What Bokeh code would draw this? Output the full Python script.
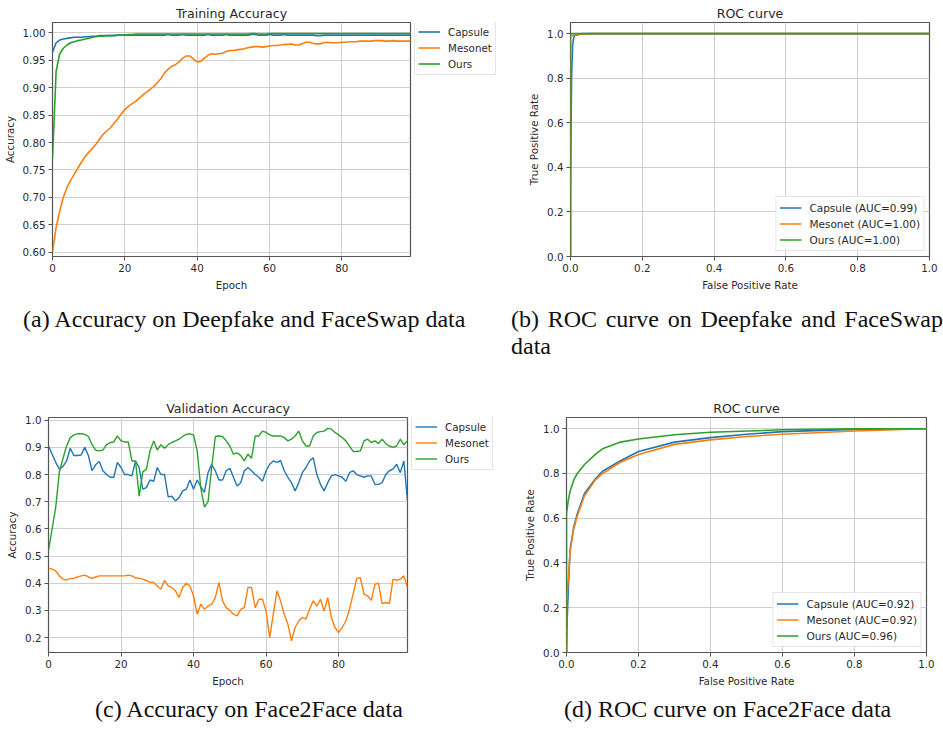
from bokeh.plotting import figure
from bokeh.models import (Range1d, FixedTicker, PrintfTickFormatter, Legend, LegendItem, Div)
from bokeh.layouts import column, row
from bokeh.embed import file_html
from bokeh.resources import INLINE

# ---------------- data ----------------
epochs = list(range(100))
series_names = ["Capsule", "Mesonet", "Ours"]
colors = ["#1f77b4", "#ff7f0e", "#2ca02c"]

train_capsule = [0.965,0.982,0.987,0.989,0.990,0.991,0.992,0.992,0.992,0.993,
0.993,0.994,0.994,0.995,0.995,0.995,0.995,0.995,0.996,0.996,
0.996,0.996,0.996,0.996,0.996,0.996,0.996,0.996,0.996,0.996,
0.996,0.996,0.997,0.996,0.996,0.996,0.997,0.996,0.996,0.996,
0.996,0.996,0.996,0.997,0.996,0.996,0.996,0.996,0.997,0.996,
0.996,0.996,0.996,0.996,0.996,0.997,0.997,0.996,0.996,0.996,
0.997,0.996,0.996,0.996,0.997,0.996,0.996,0.996,0.996,0.996,
0.996,0.996,0.996,0.995,0.995,0.996,0.996,0.996,0.996,0.996,
0.996,0.996,0.996,0.996,0.996,0.996,0.996,0.996,0.996,0.996,
0.996,0.996,0.996,0.996,0.996,0.996,0.996,0.996,0.996,0.996]

train_mesonet = [0.600,0.645,0.675,0.700,0.718,0.731,0.742,0.753,0.764,0.774,
0.782,0.789,0.797,0.806,0.815,0.821,0.827,0.835,0.843,0.852,
0.860,0.866,0.871,0.875,0.881,0.887,0.892,0.897,0.902,0.909,
0.917,0.927,0.934,0.939,0.942,0.947,0.954,0.958,0.958,0.952,
0.947,0.948,0.954,0.959,0.962,0.961,0.962,0.963,0.966,0.968,
0.968,0.969,0.970,0.971,0.973,0.974,0.975,0.975,0.974,0.975,
0.976,0.977,0.977,0.978,0.979,0.979,0.980,0.978,0.978,0.980,
0.983,0.983,0.981,0.980,0.980,0.982,0.983,0.982,0.982,0.982,
0.983,0.983,0.984,0.984,0.984,0.985,0.985,0.985,0.985,0.986,
0.986,0.986,0.985,0.985,0.986,0.985,0.985,0.985,0.985,0.985]

train_ours = [0.770,0.930,0.962,0.972,0.978,0.982,0.984,0.986,0.987,0.989,
0.990,0.992,0.993,0.994,0.994,0.995,0.995,0.995,0.996,0.996,
0.996,0.997,0.997,0.998,0.998,0.998,0.998,0.998,0.998,0.998,
0.998,0.998,0.998,0.998,0.998,0.998,0.998,0.998,0.998,0.998,
0.998,0.998,0.998,0.998,0.998,0.998,0.998,0.998,0.998,0.998,
0.998,0.998,0.998,0.998,0.998,0.999,0.999,0.998,0.998,0.998,
0.999,0.999,0.999,0.999,0.999,0.999,0.999,0.999,0.999,0.999,
0.999,0.999,0.999,0.999,0.999,0.999,0.999,0.999,0.999,0.999,
0.999,0.999,0.999,0.999,0.999,0.999,0.999,0.999,0.999,0.999,
0.999,0.999,0.999,0.999,0.999,0.999,0.999,0.999,0.999,0.999]

val_capsule = [0.905,0.875,0.845,0.820,0.830,0.850,0.897,0.870,0.870,0.872,
0.900,0.870,0.814,0.836,0.848,0.814,0.800,0.790,0.790,0.845,
0.826,0.800,0.800,0.795,0.850,0.826,0.746,0.752,0.780,0.775,
0.826,0.800,0.800,0.718,0.720,0.703,0.715,0.740,0.746,0.780,
0.746,0.780,0.755,0.734,0.807,0.838,0.814,0.780,0.780,0.814,
0.823,0.790,0.758,0.770,0.814,0.826,0.814,0.800,0.790,0.775,
0.814,0.838,0.850,0.845,0.852,0.814,0.790,0.770,0.740,0.770,
0.807,0.826,0.850,0.862,0.800,0.764,0.740,0.770,0.795,0.800,
0.795,0.790,0.775,0.807,0.814,0.800,0.795,0.790,0.795,0.795,
0.764,0.764,0.770,0.800,0.814,0.820,0.838,0.807,0.850,0.703]

val_mesonet = [0.455,0.452,0.445,0.427,0.415,0.412,0.417,0.418,0.423,0.427,
0.430,0.423,0.418,0.423,0.427,0.427,0.427,0.427,0.427,0.427,
0.427,0.427,0.430,0.427,0.420,0.418,0.415,0.410,0.403,0.403,
0.390,0.378,0.410,0.390,0.384,0.372,0.347,0.384,0.400,0.390,
0.353,0.286,0.323,0.304,0.316,0.323,0.347,0.403,0.335,0.310,
0.300,0.286,0.280,0.304,0.310,0.384,0.384,0.310,0.341,0.341,
0.298,0.200,0.286,0.372,0.335,0.286,0.250,0.188,0.237,0.261,
0.274,0.268,0.304,0.335,0.316,0.341,0.298,0.347,0.274,0.237,
0.218,0.237,0.261,0.304,0.360,0.418,0.420,0.360,0.353,0.337,
0.396,0.400,0.325,0.329,0.325,0.415,0.411,0.415,0.427,0.384]

val_ours = [0.520,0.600,0.680,0.810,0.860,0.905,0.936,0.946,0.950,0.950,
0.948,0.940,0.910,0.890,0.887,0.890,0.910,0.918,0.920,0.942,
0.924,0.920,0.920,0.850,0.850,0.720,0.810,0.820,0.887,0.924,
0.890,0.910,0.897,0.910,0.918,0.924,0.930,0.940,0.948,0.950,
0.946,0.887,0.750,0.680,0.700,0.826,0.940,0.942,0.940,0.924,
0.905,0.875,0.880,0.870,0.850,0.875,0.860,0.942,0.942,0.960,
0.955,0.946,0.942,0.942,0.942,0.936,0.924,0.930,0.942,0.960,
0.924,0.905,0.905,0.942,0.955,0.958,0.960,0.970,0.967,0.955,
0.946,0.936,0.924,0.905,0.885,0.885,0.887,0.924,0.930,0.918,
0.924,0.914,0.930,0.914,0.905,0.900,0.905,0.930,0.910,0.924]

# ROC (b) Deepfake + FaceSwap
roc1_fpr_capsule = [0.0, 0.0, 0.003, 0.006, 0.010, 0.030, 1.0]
roc1_tpr_capsule = [0.0, 0.30, 0.80, 0.95, 0.99, 1.0, 1.0]
roc1_fpr_mesonet = [0.0, 0.0, 0.02, 0.05, 1.0]
roc1_tpr_mesonet = [0.0, 0.99, 0.995, 1.0, 1.0]
roc1_fpr_ours = [0.0, 0.0, 1.0]
roc1_tpr_ours = [0.0, 1.0, 1.0]
roc1_labels = ["Capsule (AUC=0.99)", "Mesonet (AUC=1.00)", "Ours (AUC=1.00)"]

# ROC (d) Face2Face
roc2_fpr_capsule = [0.0, 0.002, 0.005, 0.01, 0.02, 0.03, 0.05, 0.08, 0.10, 0.15, 0.20, 0.30, 0.40, 0.50, 0.60, 0.80, 1.0]
roc2_tpr_capsule = [0.0, 0.15, 0.28, 0.46, 0.56, 0.62, 0.71, 0.775, 0.81, 0.857, 0.898, 0.94, 0.96, 0.975, 0.987, 0.997, 1.0]
roc2_fpr_mesonet = [0.0, 0.0, 0.002, 0.005, 0.01, 0.02, 0.03, 0.05, 0.08, 0.10, 0.15, 0.20, 0.30, 0.40, 0.50, 0.60, 0.80, 1.0]
roc2_tpr_mesonet = [0.0, 0.22, 0.27, 0.33, 0.45, 0.55, 0.61, 0.70, 0.77, 0.80, 0.85, 0.885, 0.93, 0.95, 0.965, 0.975, 0.99, 1.0]
roc2_fpr_ours = [0.0, 0.0, 0.005, 0.01, 0.02, 0.03, 0.05, 0.08, 0.10, 0.15, 0.20, 0.30, 0.40, 0.60, 0.80, 1.0]
roc2_tpr_ours = [0.0, 0.62, 0.68, 0.72, 0.77, 0.80, 0.84, 0.885, 0.91, 0.94, 0.954, 0.973, 0.984, 0.995, 0.999, 1.0]
roc2_labels = ["Capsule (AUC=0.92)", "Mesonet (AUC=0.92)", "Ours (AUC=0.96)"]

acc_yticks = [0.60, 0.65, 0.70, 0.75, 0.80, 0.85, 0.90, 0.95, 1.00]
val_yticks = [0.2, 0.3, 0.4, 0.5, 0.6, 0.7, 0.8, 0.9, 1.0]
epoch_ticks = [0, 20, 40, 60, 80]
roc_ticks = [0.0, 0.2, 0.4, 0.6, 0.8, 1.0]

captions = ["(a) Accuracy on Deepfake and FaceSwap data",
            "(b) ROC curve on Deepfake and FaceSwap data",
            "(c) Accuracy on Face2Face data",
            "(d) ROC curve on Face2Face data"]

FONT = "DejaVu Sans"
TXT = "#2a2a2a"
LEG_H = 53


def make_fig(title, w, h, bl, br, bt, bb, xr, yr, xt, yt, xfmt, yfmt, xlabel, ylabel):
    p = figure(width=w, height=h, output_backend="svg", toolbar_location=None,
               x_range=Range1d(*xr), y_range=Range1d(*yr),
               min_border_left=bl, min_border_right=br, min_border_top=bt, min_border_bottom=bb,
               background_fill_color="white", border_fill_color="white")
    p.title.text = title
    p.title.align = "center"
    p.title.text_font = FONT
    p.title.text_font_size = "12.6px"
    p.title.text_font_style = "normal"
    p.title.text_color = TXT
    p.title.standoff = 4
    p.outline_line_color = "#555555"
    p.outline_line_width = 1.2
    for ax, ticks, fmt, lab in ((p.xaxis[0], xt, xfmt, xlabel), (p.yaxis[0], yt, yfmt, ylabel)):
        ax.ticker = FixedTicker(ticks=ticks)
        ax.formatter = PrintfTickFormatter(format=fmt)
        ax.axis_label = lab
        ax.axis_label_text_font = FONT
        ax.axis_label_text_font_size = "10.3px"
        ax.axis_label_text_font_style = "normal"
        ax.axis_label_text_color = TXT
        ax.axis_label_standoff = 4
        ax.major_label_text_font = FONT
        ax.major_label_text_font_size = "10.3px"
        ax.major_label_text_color = TXT
        ax.major_label_standoff = 3
        ax.axis_line_color = None
        ax.major_tick_line_color = "#555555"
        ax.major_tick_out = 4
        ax.major_tick_in = 0
        ax.minor_tick_line_color = None
    p.grid.grid_line_color = "#cfcfcf"
    p.grid.grid_line_width = 1
    return p


def style_legend(leg, size):
    leg.label_text_font = FONT
    leg.label_text_font_size = size
    leg.label_text_color = TXT
    leg.glyph_width = 22
    leg.glyph_height = 15
    leg.label_height = 15
    leg.label_standoff = 8
    leg.spacing = 1
    leg.padding = 3
    leg.border_line_color = "#cccccc"
    leg.border_line_width = 1
    leg.background_fill_alpha = 0.85


def legend_panel(w, h, top, bottom, series, width_line):
    # a frameless strip to the right of an accuracy plot that only carries its legend;
    # its x range lies outside the epochs, so the series drawn here stay out of view
    lf = figure(width=w, height=h, output_backend="svg", toolbar_location=None,
                x_axis_type=None, y_axis_type=None,
                min_border_left=0, min_border_right=0, min_border_top=top, min_border_bottom=bottom,
                x_range=Range1d(-20, -10), y_range=Range1d(0, 1),
                background_fill_color="white", border_fill_color="white")
    lf.outline_line_color = None
    lf.grid.visible = False
    keys = [lf.line(epochs, s, line_color=c, line_width=width_line) for s, c in zip(series, colors)]
    frame_h = h - top - bottom
    leg = Legend(items=[LegendItem(label=n, renderers=[r]) for n, r in zip(series_names, keys)],
                 location=(1, frame_h - LEG_H), margin=0)
    style_legend(leg, "10.3px")
    lf.add_layout(leg)
    return lf


# (a) Training accuracy
train_series = [train_capsule, train_mesonet, train_ours]
pa = make_fig("Training Accuracy", 413, 300, 51, 3, 22, 44, (0, 99), (0.592, 1.019),
              epoch_ticks, acc_yticks, "%d", "%.2f", "Epoch", "Accuracy")
for s, c in zip(train_series, colors):
    pa.line(epochs, s, line_color=c, line_width=1.6)
la = legend_panel(87, 300, 22, 44, train_series, 1.6)

# (b) ROC
pb = make_fig("ROC curve", 443, 300, 70, 14, 22, 44, (0, 1), (0, 1.05),
              roc_ticks, roc_ticks, "%.1f", "%.1f", "False Positive Rate", "True Positive Rate")
rb = [pb.line(fx, ty, line_color=c, line_width=1.6)
      for fx, ty, c in zip([roc1_fpr_capsule, roc1_fpr_mesonet, roc1_fpr_ours],
                           [roc1_tpr_capsule, roc1_tpr_mesonet, roc1_tpr_ours], colors)]
leg_b = Legend(items=[LegendItem(label=n, renderers=[r]) for n, r in zip(roc1_labels, rb)],
               location="bottom_right", margin=5)
style_legend(leg_b, "10.5px")
pb.add_layout(leg_b)

# (c) Validation accuracy
val_series = [val_capsule, val_mesonet, val_ours]
pc = make_fig("Validation Accuracy", 410, 332, 48, 3, 57, 40, (0, 99), (0.145, 1.01),
              epoch_ticks, val_yticks, "%d", "%.1f", "Epoch", "Accuracy")
for s, c in zip(val_series, colors):
    pc.line(epochs, s, line_color=c, line_width=1.4)
lc = legend_panel(90, 332, 57, 40, val_series, 1.4)

# (d) ROC Face2Face
pd_ = make_fig("ROC curve", 443, 332, 66, 17, 57, 40, (0, 1), (0, 1.05),
               roc_ticks, roc_ticks, "%.1f", "%.1f", "False Positive Rate", "True Positive Rate")
rd = [pd_.line(fx, ty, line_color=c, line_width=1.6)
      for fx, ty, c in zip([roc2_fpr_capsule, roc2_fpr_mesonet, roc2_fpr_ours],
                           [roc2_tpr_capsule, roc2_tpr_mesonet, roc2_tpr_ours], colors)]
leg_d = Legend(items=[LegendItem(label=n, renderers=[r]) for n, r in zip(roc2_labels, rd)],
               location="bottom_right", margin=5)
style_legend(leg_d, "10.5px")
pd_.add_layout(leg_d)


def cap(text, w, h, pad_left, pad_top, align="left"):
    html = ('<div style="box-sizing:border-box;'
            'font-family:\'Liberation Serif\',\'Times New Roman\',serif;'
            'font-size:24px;line-height:27px;color:#111;'
            f'padding-left:{pad_left}px;padding-top:{pad_top}px;width:{w}px;'
            f'text-align:{align};text-align-last:left;">{text}</div>')
    return Div(text=html, width=w, height=h, margin=0)


cap_a = cap(captions[0], 500, 60, 23, 6)
cap_b = cap(captions[1], 443, 60, 11, 6, align="justify")
cap_c = cap(captions[2], 500, 40, 95, 4)
cap_d = cap(captions[3], 443, 40, 64, 4)

layout = column(row(pa, la, pb, spacing=0), row(cap_a, cap_b, spacing=0),
                row(pc, lc, pd_, spacing=0), row(cap_c, cap_d, spacing=0), spacing=0)

open("out.html", "w").write(file_html(layout, INLINE))
